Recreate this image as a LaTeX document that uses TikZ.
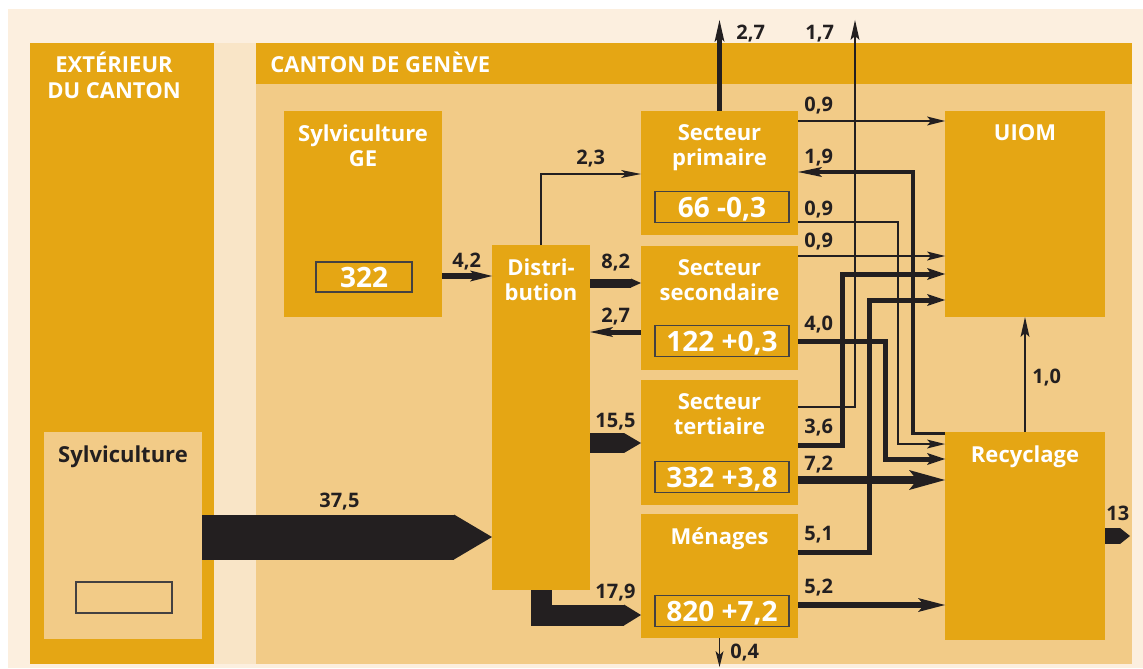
\documentclass[tikz,border=0pt]{standalone}
\usepackage{fontspec}
\setmainfont{Open Sans}
\usetikzlibrary{arrows.meta,positioning}
\definecolor{dorange}{HTML}{E5A614}
\definecolor{lorange}{HTML}{F2CB87}
\definecolor{cream}{HTML}{FCEFDF}
\definecolor{strip}{HTML}{F9E5C7}
\definecolor{ink}{HTML}{231F20}
\tikzset{
  box/.style={fill=dorange,inner sep=0pt,outer sep=0pt,anchor=north west},
  sector/.style={box,minimum width=78.5pt,minimum height=62pt},
  title/.style={text=white,font=\bfseries\fontsize{11}{12.5}\selectfont,align=center,inner sep=0pt,anchor=north},
  valbox/.style={draw=ink!85,line width=0.6pt,inner sep=0pt,minimum width=67pt,minimum height=15.5pt,
    text height=10pt,text depth=0pt,text=white,font=\bfseries\fontsize{14}{14}\selectfont},
  lab/.style={text=ink,font=\bfseries\fontsize{10}{10}\selectfont,inner sep=0pt,anchor=base west},
  flow/.style={draw=ink,line width=#1},
  flow/.default=0.65pt
}
\begin{document}
\begin{tikzpicture}[x=0.5pt,y=-0.5pt]
\useasboundingbox (0,0) rectangle (1143,668);
\fill[cream] (8,9) rectangle (1143,668);
\fill[strip] (214,43) rectangle (256,664);
\node[box,minimum width=92pt,minimum height=310.5pt] (ext) at (30,43) {};
\node[box,fill=lorange,minimum width=438pt,minimum height=310.5pt] (canton) at (256,43) {};
\node[box,minimum width=438pt,minimum height=20.5pt] (head) at (256,43) {};
\node[title,font=\bfseries\fontsize{11}{13}\selectfont] (text) at (114,52) {EXTÉRIEUR\\DU CANTON};
\node[title,anchor=north west] (tcan) at (270,52) {CANTON DE GENÈVE};
\node[box,fill=lorange,minimum width=79pt,minimum height=103.5pt] (sylv) at (44,432) {};
\node[title,text=ink,below=6.5pt of sylv.north] (tsylv) {Sylviculture};
\node[valbox,minimum width=48pt] (vsylv) at (124,597.5) {};
\node[box,minimum width=79pt,minimum height=103pt] (sylge) at (284,111) {};
\node[title,below=6.5pt of sylge.north] (tsylge) {Sylviculture\\GE};
\node[valbox,minimum width=48pt,minimum height=15pt] (vsylge) at (364,277) {322};
\node[box,minimum width=49pt,minimum height=172.5pt] (dist) at (492,245) {};
\node[title,below=6.5pt of dist.north] (tdist) {Distri-\\bution};
\node[sector] (prim) at (641,111) {};
\node[title,below=6.5pt of prim.north] (tprim) {Secteur\\primaire};
\node[valbox] (vprim) at (722,207) {66 -0,3};
\node[sector] (sec) at (641,246) {};
\node[title,below=6.5pt of sec.north] (tsec) {Secteur\\secondaire};
\node[valbox] (vsec) at (722,341) {122 +0,3};
\node[sector,minimum height=62.5pt] (ter) at (641,380) {};
\node[title,below=6.5pt of ter.north] (tter) {Secteur\\tertiaire};
\node[valbox] (vter) at (722,477) {332 +3,8};
\node[sector] (men) at (641,514) {};
\node[title,below=6.5pt of men.north] (tmen) {Ménages};
\node[valbox] (vmen) at (722,611) {820 +7,2};
\node[box,minimum width=80pt,minimum height=103pt] (uiom) at (945,111) {};
\node[title,below=6.5pt of uiom.north] (tuiom) {UIOM};
\node[box,minimum width=80pt,minimum height=104pt] (recyc) at (945,432) {};
\node[title,below=6.5pt of recyc.north] (trecyc) {Recyclage};
\coordinate (top17) at (855,20);
\coordinate (bot04) at (719.5,667);
\coordinate (out13) at (1130,536);
\draw[flow=22.5pt,-{Triangle[length=19pt,width=22.5pt,line width=0pt]}] (sylv.east |- 0,537) -- (dist.west |- 0,537);
\draw[flow=2.75pt,-{Stealth[length=11pt,width=5.5pt,inset=2.5pt,line width=0pt]}] (sylge.east |- 0,276) -- (dist.west |- 0,276);
\draw[flow=1pt,-{Stealth[length=10pt,width=4pt,inset=2.5pt,line width=0pt]}] (dist.north) |- (prim.west |- 0,174);
\draw[flow=4.5pt,-{Triangle[length=5pt,width=4.5pt,line width=0pt]}] (dist.east |- 0,283) -- (sec.west |- 0,283);
\draw[flow=2.5pt,-{Stealth[length=11.5pt,width=5pt,inset=2.5pt,line width=0pt]}] (sec.west |- 0,332) -- (dist.east |- 0,332);
\draw[flow=10pt,-{Triangle[length=8.5pt,width=10pt,line width=0pt]}] (dist.east |- 0,443) -- (ter.west |- 0,443);
\draw[flow=10.5pt,-{Triangle[length=8.5pt,width=10.5pt,line width=0pt]}] (dist.south) |- (men.west |- 0,615);
\draw[flow=2.25pt,-{Stealth[length=11pt,width=5pt,inset=2.5pt,line width=0pt]}] (prim.north) -- (prim.north |- top17);
\draw[flow,-{Stealth[length=10pt,width=4.5pt,inset=2pt,line width=0pt]}] (ter.east |- 0,407) -| (top17);
\draw[flow,-{Stealth[length=8pt,width=4pt,inset=2pt,line width=0pt]}] (men.south) -- (bot04);
\draw[flow,-{Stealth[length=9pt,width=4.5pt,inset=2pt,line width=0pt]}] (prim.east |- 0,121) -- (uiom.west |- 0,121);
\draw[flow=1.75pt,-{Stealth[length=12pt,width=5pt,inset=2.5pt,line width=0pt]}] (recyc.west |- 0,433.5) -| (913,172) -- (prim.east |- 0,172);
\draw[flow,-{Stealth[length=9pt,width=4.5pt,inset=2pt,line width=0pt]}] (prim.east |- 0,222) -| (898,444) -- (recyc.west |- 0,444);
\draw[flow,-{Stealth[length=9pt,width=4.5pt,inset=2pt,line width=0pt]}] (sec.east |- 0,256) -- (uiom.west |- 0,256);
\draw[flow=2.5pt,-{Stealth[length=9pt,width=6pt,inset=2pt,line width=0pt]}] (sec.east |- 0,341) -| (885,459) -- (recyc.west |- 0,459);
\draw[flow=2.5pt,-{Stealth[length=9pt,width=6pt,inset=2pt,line width=0pt]}] (ter.east |- 0,445) -| (842,274) -- (uiom.west |- 0,274);
\draw[flow=2.5pt,-{Stealth[length=9pt,width=6pt,inset=2pt,line width=0pt]}] (men.east |- 0,552) -| (869,300) -- (uiom.west |- 0,300);
\draw[flow=4pt,-{Stealth[length=18pt,width=10pt,inset=4pt,line width=0pt]}] (ter.east |- 0,480) -- (recyc.west |- 0,480);
\draw[flow=3pt,-{Stealth[length=13.5pt,width=7pt,inset=3pt,line width=0pt]}] (men.east |- 0,605) -- (recyc.west |- 0,605);
\draw[flow,-{Stealth[length=10pt,width=4.5pt,inset=2pt,line width=0pt]}] (recyc.north) -- (uiom.south);
\draw[flow=8pt,-{Triangle[length=5pt,width=8pt,line width=0pt]}] (recyc.east |- out13) -- (out13);
\node[lab] (l375) at (319,507) {37,5};
\node[lab] (l42) at (452,267) {4,2};
\node[lab] (l23) at (576,165) {2,3};
\node[lab] (l82) at (601,268) {8,2};
\node[lab] (l27b) at (601,322) {2,7};
\node[lab] (l155) at (595,427) {15,5};
\node[lab] (l179) at (595,598) {17,9};
\node[lab] (l27t) at (736,40) {2,7};
\node[lab] (l17) at (805,40) {1,7};
\node[lab] (l04) at (730,658) {0,4};
\node[lab] (l09a) at (804,112) {0,9};
\node[lab] (l19) at (804,163) {1,9};
\node[lab] (l09b) at (804,215) {0,9};
\node[lab] (l09c) at (804,247) {0,9};
\node[lab] (l40) at (804,330) {4,0};
\node[lab] (l36) at (804,433) {3,6};
\node[lab] (l72) at (804,470) {7,2};
\node[lab] (l51) at (804,540) {5,1};
\node[lab] (l52) at (804,593) {5,2};
\node[lab] (l10) at (1032,383) {1,0};
\node[lab] (l13) at (1106,520) {13};
\end{tikzpicture}
\end{document}
